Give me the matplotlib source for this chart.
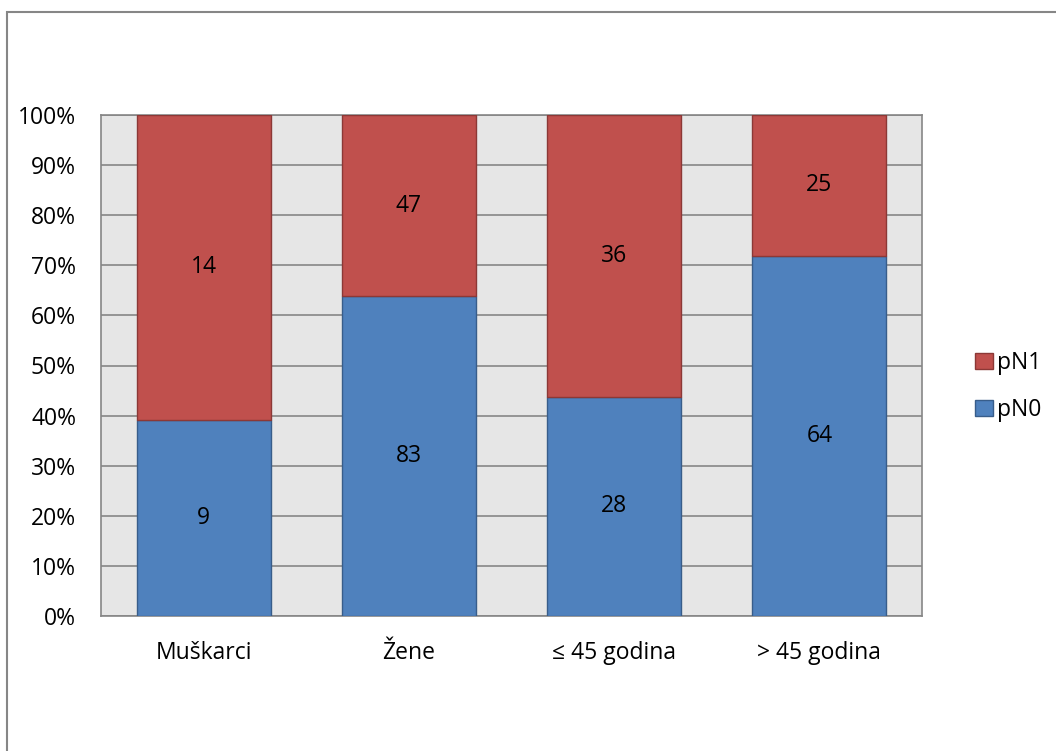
import matplotlib.pyplot as plt
from matplotlib.patches import Rectangle

# data
categories = ["Muškarci", "Žene", "≤ 45 godina", "> 45 godina"]
pN0 = [9, 83, 28, 64]
pN1 = [14, 47, 36, 25]

plt.rcParams['font.family'] = ['Open Sans', 'DejaVu Sans']

totals = [a + b for a, b in zip(pN0, pN1)]
share0 = [a / t * 100 for a, t in zip(pN0, totals)]
share1 = [b / t * 100 for b, t in zip(pN1, totals)]

fig = plt.figure(figsize=(10.56, 7.51), dpi=100)
# outer chart frame
fig.patches.append(Rectangle((7 / 1056, -0.1), 1.2, (751 - 12) / 751 + 0.1,
                             transform=fig.transFigure, fill=False,
                             edgecolor="#868686", linewidth=1.5))

ax = fig.add_axes([101 / 1056, 1 - 616 / 751, (922 - 101) / 1056, (616 - 115) / 751])
ax.set_facecolor("#e6e6e6")

x = range(len(categories))
w = 0.653
ax.bar(x, share0, w, color="#4f81bd", edgecolor="#385d8a", linewidth=1, label="pN0", zorder=3)
ax.bar(x, share1, w, bottom=share0, color="#c0504d", edgecolor="#8c3836", linewidth=1, label="pN1", zorder=3)

fs = 16.5
for i in x:
    ax.text(i, share0[i] / 2, str(pN0[i]), ha="center", va="center", fontsize=fs, zorder=4)
    ax.text(i, share0[i] + share1[i] / 2, str(pN1[i]), ha="center", va="center", fontsize=fs, zorder=4)

ax.set_xlim(-0.5, len(categories) - 0.5)
ax.set_ylim(0, 100)
ax.set_yticks(range(0, 101, 10))
ax.set_yticklabels([f"{v}%" for v in range(0, 101, 10)], fontsize=fs)
ax.set_xticks(list(x))
ax.set_xticklabels(categories, fontsize=fs)
ax.tick_params(axis="x", length=0, pad=18)
ax.tick_params(axis="y", length=0, pad=18)
ax.grid(axis="y", color="#868686", linewidth=1.2, zorder=1)
for s in ax.spines.values():
    s.set_color("#868686")
    s.set_linewidth(1.2)

h, l = ax.get_legend_handles_labels()
ax.legend(h[::-1], l[::-1], loc="center left", bbox_to_anchor=(1.04, 0.458), frameon=False,
          fontsize=fs, handlelength=0.75, handleheight=0.75, handletextpad=0.2, labelspacing=1.0)

fig.savefig("out.png", dpi=100)
